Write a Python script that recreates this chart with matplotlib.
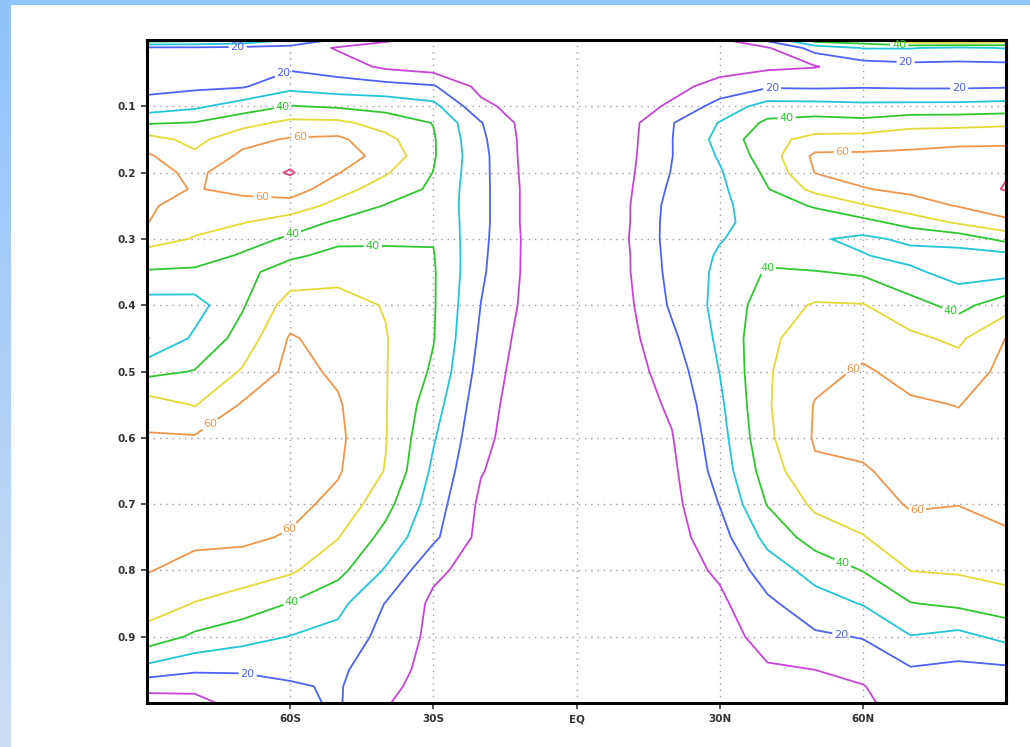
import numpy as np
import matplotlib
matplotlib.use("Agg")
import matplotlib.pyplot as plt
from matplotlib.patches import Rectangle
from matplotlib.colors import LinearSegmentedColormap

# ---- data: values (latitude columns x sigma rows) ----
lats = [-90, -80, -70, -60, -50, -40, -30, -20, -10, 0, 10, 20, 30, 40, 50, 60, 70, 80, 90]
sigma = [0.0, 0.012, 0.04, 0.07, 0.1, 0.125, 0.15, 0.175, 0.2, 0.225, 0.25, 0.275, 0.3, 0.325,
         0.35, 0.4, 0.45, 0.5, 0.55, 0.6, 0.65, 0.7, 0.75, 0.8, 0.85, 0.9, 0.95, 0.975, 1.0]

v_90S = [46, 18, 14, 17, 24, 39, 54, 61.5, 62.5, 63, 61.5, 60.3, 54, 46.3, 39, 25.8, 19.5, 37, 55, 61, 61, 61, 61, 60.5, 55, 46, 26.4, 12.7, 6]
v_80S = [44, 18, 14, 18, 28, 40.5, 47, 52, 58.5, 59.5, 55.5, 52.6, 49.4, 44.4, 38.3, 26, 31.7, 40.5, 49.4, 61, 63, 63, 62, 57, 49.6, 38.2, 21.6, 12, 7.5]
v_70S = [40, 17, 14, 19, 35, 46.3, 57, 62, 64, 62, 57, 50.5, 43.9, 39, 37.5, 39, 43.9, 51, 61, 63, 64, 64, 62, 55, 45.6, 33.7, 20.8, 17, 13]
v_60S = [30, 16, 18, 27, 40.5, 52.6, 61, 66, 71, 65, 55.7, 45, 38.5, 38.5, 44.2, 54.4, 61, 63, 64, 64, 64, 63, 59, 51.5, 39.6, 29.7, 22, 19, 18]
v_50S = [18, 9, 15, 24.4, 38.7, 52.3, 62, 64, 60.5, 54, 46.7, 38.5, 38, 42.4, 47.4, 53, 56, 58.5, 61, 62, 61, 57.3, 50.4, 43, 32.9, 26.8, 22, 21, 21]
v_40S = [11, 7, 8, 23.5, 36.5, 45.7, 53, 57, 51, 45, 39.5, 37, 38.5, 42, 45, 49.5, 50.5, 50.5, 50.5, 50.5, 49.5, 43.4, 36.7, 29, 19.6, 16.7, 13.5, 12, 10.5]
v_30S = [8, 6, 5, 21, 33, 39.7, 41, 41, 39.8, 38.5, 38, 38.5, 39.5, 40.5, 41, 41, 40.5, 38.5, 34.5, 31, 28, 25, 22, 12, 8, 7.5, 7, 6.5, 6]
v_20S = [6, 5, 4, 7, 12.5, 20.5, 22, 23, 23, 23, 23, 23, 22.5, 22, 21.5, 19.8, 18, 16, 14, 12.5, 10.5, 8, 7, 6, 5, 4.5, 4, 3.5, 3]
v_10S = [5, 4.5, 4, 4.5, 5, 5.5, 6, 6, 6.5, 7, 7, 7, 7.5, 7.5, 7.5, 7, 5.5, 4.5, 4, 4, 4, 4, 4, 3.5, 3.5, 3, 3, 3, 3]
v_EQ = [4, 4, 3.5, 3.5, 4, 4, 4.5, 4.5, 4.5, 5, 5, 5, 5, 5, 5, 4.5, 4.5, 4, 4, 3.5, 3.5, 3.5, 3, 3, 3, 3, 3, 3, 3]
v_10N = [5, 5, 4, 4.5, 5, 5.5, 6, 6.5, 7, 7.5, 8, 8, 8.5, 8, 8, 7, 6, 5, 4.5, 4, 4, 3.5, 3.5, 3, 3, 3, 3, 3, 3]
v_20N = [7, 6, 5, 7, 11.5, 19.5, 19.8, 19.8, 20.5, 22, 23.5, 24, 24, 23.5, 23, 21.5, 18, 14.5, 11.5, 9.5, 8, 7, 6, 5.5, 5, 4.5, 4, 4, 4]
v_30N = [8, 6, 6, 13.5, 24, 30.5, 33, 31, 29, 28, 28, 28.5, 29.5, 31, 32, 33, 32, 30.2, 28, 26, 24, 20.3, 16, 11.5, 8, 6, 5, 5, 5]
v_40N = [22, 9, 8, 18.7, 34, 42, 47, 45, 42, 39.5, 35, 33, 34, 37.5, 41, 45, 48, 49, 49, 48, 45, 40.5, 33, 25, 18, 13.5, 9, 8, 7]
v_50N = [45, 24, 9.5, 18.3, 33.8, 44, 53, 62, 60.3, 53, 41, 34, 31, 34, 40.5, 51, 55, 57.5, 60.5, 61, 58.5, 52, 44.5, 33.5, 26, 18.5, 10, 8, 7]
v_60N = [48, 30.5, 15, 19, 32.6, 43, 54, 62, 63, 59.5, 49, 36.7, 28, 30.5, 38.5, 50.5, 57, 61, 61.5, 62, 59.3, 55, 49.5, 40.3, 30.5, 20.5, 13.5, 9.5, 8]
v_70N = [60, 30.5, 17, 18.5, 32.9, 46.7, 56, 62.5, 65, 62, 56, 44, 32, 27, 32, 43.5, 52, 57.5, 61, 63, 62.5, 61, 56, 50.2, 39.6, 29.6, 19, 17, 15]
v_80N = [62, 28, 17, 18.5, 33, 47, 57, 64, 68, 66, 60.5, 51.5, 34, 26.5, 26, 37, 48, 55, 59.8, 62, 63, 60.2, 56, 51.2, 42, 27, 17.5, 16, 15]
v_90N = [58, 30.5, 17, 19, 34, 48, 57.5, 64, 69.5, 70.5, 65, 58, 43, 27, 26.5, 45.5, 60.2, 62.5, 63, 63, 63, 62, 59, 53.5, 45.7, 32.7, 18, 16, 15]

levels = [10, 20, 30, 40, 50, 60, 70]
colors = ["#c844d8", "#4f62f5", "#22c6d8", "#2ec82e", "#e2da36", "#f0964a", "#e8447e"]
xtick_pos = [-60, -30, 0, 30, 60]
xtick_lab = ["60S", "30S", "EQ", "30N", "60N"]
ytick_pos = [0.1, 0.2, 0.3, 0.4, 0.5, 0.6, 0.7, 0.8, 0.9]
ytick_lab = ["0.1", "0.2", "0.3", "0.4", "0.5", "0.6", "0.7", "0.8", "0.9"]

# where the original chart puts its contour labels (lat, sigma), per labelled level
label_pts = {
    20: [(-71, 0.013), (-61.6, 0.047), (-68.5, 0.938), (41, 0.07), (69, 0.029),
         (80.2, 0.077), (55.7, 0.888)],
    40: [(-61.6, 0.1), (-59.5, 0.293), (-42.7, 0.307), (-59.5, 0.85), (44, 0.115),
         (39.8, 0.342), (78.1, 0.414), (55.7, 0.79), (67.6, 0.008)],
    60: [(-58, 0.142), (-65.8, 0.233), (-75.4, 0.594), (-59.5, 0.746), (55.7, 0.16),
         (55.7, 0.47), (71.8, 0.737)],
}

columns = [v_90S, v_80S, v_70S, v_60S, v_50S, v_40S, v_30S, v_20S, v_10S, v_EQ,
           v_10N, v_20N, v_30N, v_40N, v_50N, v_60N, v_70N, v_80N, v_90N]
Z = np.array(columns).T   # shape (len(sigma), len(lats))

fig = plt.figure(figsize=(10.30, 7.47), dpi=100)
fig.patch.set_facecolor("white")

# decorative frame: top band and left gradient strip
fig.add_artist(Rectangle((0, 1 - 5 / 747), 1, 5 / 747, transform=fig.transFigure,
                         facecolor="#8fc3fb", edgecolor="none", zorder=0))
gax = fig.add_axes([0, 0, 11 / 1030, 1 - 5 / 747])
gcm = LinearSegmentedColormap.from_list("g", ["#8fc3fb", "#cddff2"])
gax.imshow(np.linspace(0, 1, 256).reshape(-1, 1), aspect="auto", cmap=gcm)
gax.axis("off")

ax = fig.add_axes([147 / 1030, 1 - 703 / 747, 859 / 1030, 663 / 747])
ax.set_axisbelow(True)
ax.grid(True, linestyle=(0, (1, 3.5)), color="#a898b0", linewidth=1.0)

for lev, col in zip(levels, colors):
    cs = ax.contour(lats, sigma, Z, levels=[lev], colors=[col], linewidths=1.3)
    if lev in label_pts:
        ax.clabel(cs, manual=label_pts[lev], fmt="%d", fontsize=8,
                  inline=True, inline_spacing=2)
        for t in cs.labelTexts:
            t.set_rotation(0)

ax.set_xlim(-90, 90)
ax.set_ylim(1.0, 0.0)
ax.set_xticks(xtick_pos)
ax.set_xticklabels(xtick_lab)
ax.set_yticks(ytick_pos)
ax.set_yticklabels(ytick_lab)
ax.tick_params(direction="out", length=4, width=1.2, labelsize=7.5, colors="#333333",
               pad=4)
for lab in ax.get_xticklabels() + ax.get_yticklabels():
    lab.set_fontweight("bold")
for sp in ax.spines.values():
    sp.set_linewidth(2.2)
    sp.set_color("black")

fig.savefig("out.png", dpi=100, facecolor="white")
